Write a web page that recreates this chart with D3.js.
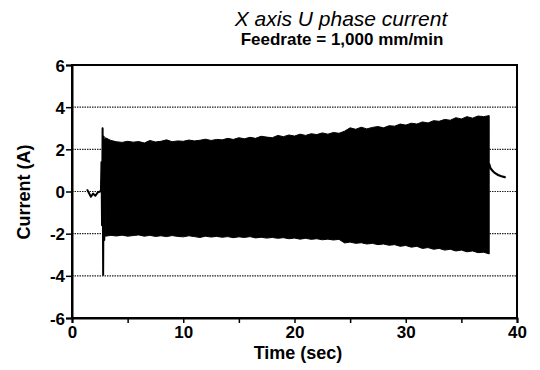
<!DOCTYPE html>
<html>
<head>
<meta charset="utf-8">
<script src="https://cdn.jsdelivr.net/npm/d3@7"></script>
<style>
  body { margin: 0; background: #fff; }
  svg { display: block; }
</style>
</head>
<body>
<div id="plot"></div>
<script>
// envelope of the phase current burst (A), read every 0.5 s
var burstTime = [3.0, 3.5, 4.0, 4.5, 5.0, 5.5, 6.0, 6.5, 7.0, 7.5, 8.0, 8.5, 9.0, 9.5, 10.0, 10.5,
  11.0, 11.5, 12.0, 12.5, 13.0, 13.5, 14.0, 14.5, 15.0, 15.5, 16.0, 16.5, 17.0, 17.5, 18.0, 18.5,
  19.0, 19.5, 20.0, 20.5, 21.0, 21.5, 22.0, 22.5, 23.0, 23.5, 24.0, 24.5, 25.0, 25.5, 26.0, 26.5,
  27.0, 27.5, 28.0, 28.5, 29.0, 29.5, 30.0, 30.5, 31.0, 31.5, 32.0, 32.5, 33.0, 33.5, 34.0, 34.5,
  35.0, 35.5, 36.0, 36.5, 37.0, 37.5];
var upperEnv = [2.55, 2.42, 2.36, 2.33, 2.38, 2.34, 2.37, 2.30, 2.42, 2.35, 2.38, 2.45, 2.36, 2.40, 2.38, 2.44,
  2.40, 2.43, 2.48, 2.42, 2.47, 2.45, 2.52, 2.47, 2.55, 2.50, 2.57, 2.52, 2.62, 2.58, 2.55, 2.66,
  2.60, 2.68, 2.63, 2.72, 2.66, 2.74, 2.70, 2.78, 2.72, 2.80, 2.76, 2.86, 3.02, 2.95, 3.05, 2.97,
  3.04, 3.08, 3.02, 3.12, 3.10, 3.20, 3.15, 3.24, 3.20, 3.30, 3.25, 3.36, 3.33, 3.42, 3.38, 3.50,
  3.44, 3.55, 3.48, 3.58, 3.55, 3.60];
var lowerEnv = [-2.12, -2.08, -2.11, -2.07, -2.12, -2.09, -2.06, -2.12, -2.08, -2.13, -2.10, -2.14, -2.09, -2.13, -2.15, -2.10,
  -2.14, -2.18, -2.12, -2.16, -2.13, -2.17, -2.14, -2.19, -2.15, -2.18, -2.14, -2.20, -2.17, -2.21, -2.18, -2.22,
  -2.19, -2.24, -2.21, -2.26, -2.22, -2.27, -2.24, -2.29, -2.26, -2.30, -2.27, -2.44, -2.40, -2.46, -2.43, -2.49,
  -2.46, -2.52, -2.49, -2.55, -2.52, -2.60, -2.56, -2.64, -2.60, -2.70, -2.66, -2.74, -2.70, -2.78, -2.74, -2.82,
  -2.78, -2.86, -2.82, -2.90, -2.88, -2.96];

// idle current before the burst, start-up spike, decay after it
var startTime = [1.35, 1.5, 1.7, 1.9, 2.1, 2.3, 2.5, 2.6, 2.65, 2.7, 2.75, 2.8, 2.85, 2.9, 3.0];
var startVal  = [0.10, -0.05, -0.25, -0.10, -0.20, -0.05, 0.00, 0.02, 1.40, -1.60, 3.00, -3.95, 2.60, -2.30, 2.50];
var tailTime = [37.5, 37.6, 37.8, 38.0, 38.3, 38.6, 38.9];
var tailVal  = [1.30, 1.12, 0.98, 0.88, 0.78, 0.72, 0.68];

var xTicks = [0, 10, 20, 30, 40];
var xMinor = [5, 15, 25, 35];
var yTicks = [-6, -4, -2, 0, 2, 4, 6];
var yGrid = [-4, -2, 0, 2, 4];

var width = 540, height = 370;
var font = "'Liberation Sans', Arial, Helvetica, sans-serif";

var svg = d3.select("#plot").append("svg").attr("width", width).attr("height", height);

var x = d3.scaleLinear().domain([0, 40]).range([72, 517]);
var y = d3.scaleLinear().domain([-6, 6]).range([318, 65]);

// grid
svg.append("g").selectAll("line").data(yGrid).enter().append("line")
  .attr("x1", x(0)).attr("x2", x(40))
  .attr("y1", function(d){ return y(d); }).attr("y2", function(d){ return y(d); })
  .attr("stroke", "#222").attr("stroke-width", 1.2).attr("stroke-dasharray", "1.5,1");

// signal
var burst = burstTime.map(function(t, i){ return {t: t, hi: upperEnv[i], lo: lowerEnv[i]}; });
var area = d3.area().x(function(d){ return x(d.t); })
  .y0(function(d){ return y(d.lo); }).y1(function(d){ return y(d.hi); });
svg.append("path").datum(burst).attr("d", area)
  .attr("fill", "#000").attr("stroke", "#000").attr("stroke-width", 1);

var line = d3.line().x(function(d){ return x(d[0]); }).y(function(d){ return y(d[1]); });
svg.append("path").datum(d3.zip(startTime, startVal)).attr("d", line)
  .attr("fill", "none").attr("stroke", "#000").attr("stroke-width", 2).attr("stroke-linejoin", "round");
svg.append("path").datum(d3.zip(tailTime, tailVal)).attr("d", line)
  .attr("fill", "none").attr("stroke", "#000").attr("stroke-width", 2.2).attr("stroke-linecap", "round");

// frame
svg.append("rect").attr("x", x(0)).attr("y", y(6))
  .attr("width", x(40) - x(0)).attr("height", y(-6) - y(6))
  .attr("fill", "none").attr("stroke", "#000").attr("stroke-width", 2);

// axes
var xaxis = svg.append("g").attr("transform", "translate(0," + y(-6) + ")")
  .call(d3.axisBottom(x).tickValues(xTicks).tickSize(5).tickPadding(3).tickFormat(function(d){ return String(d); }));
svg.append("g").attr("transform", "translate(0," + y(-6) + ")")
  .call(d3.axisBottom(x).tickValues(xMinor).tickSize(5).tickFormat(""))
  .select(".domain").remove();
var yaxis = svg.append("g").attr("transform", "translate(" + x(0) + ",0)")
  .call(d3.axisLeft(y).tickValues(yTicks).tickSize(6).tickPadding(1).tickFormat(function(d){ return String(d); }));

svg.selectAll(".domain").attr("stroke-width", 2);
svg.selectAll(".tick line").attr("stroke-width", 1.5);
svg.selectAll(".tick text").attr("font-family", font).attr("font-size", "17px")
  .attr("font-weight", "bold").attr("fill", "#000");
yaxis.selectAll(".tick text").attr("dy", "0.36em");

// titles
svg.append("text").attr("x", 341).attr("y", 26)
  .attr("text-anchor", "middle").attr("font-family", font)
  .attr("font-size", "21px").attr("font-style", "italic")
  .text("X axis U phase current");

svg.append("text").attr("x", 342).attr("y", 45)
  .attr("text-anchor", "middle").attr("font-family", font)
  .attr("font-size", "17px").attr("font-weight", "bold")
  .text("Feedrate = 1,000 mm/min");

svg.append("text").attr("x", 298).attr("y", 359)
  .attr("text-anchor", "middle").attr("font-family", font)
  .attr("font-size", "18px").attr("font-weight", "bold")
  .text("Time (sec)");

svg.append("text").attr("transform", "translate(30,192) rotate(-90)")
  .attr("text-anchor", "middle").attr("font-family", font)
  .attr("font-size", "18px").attr("font-weight", "bold")
  .text("Current (A)");
</script>
</body>
</html>
